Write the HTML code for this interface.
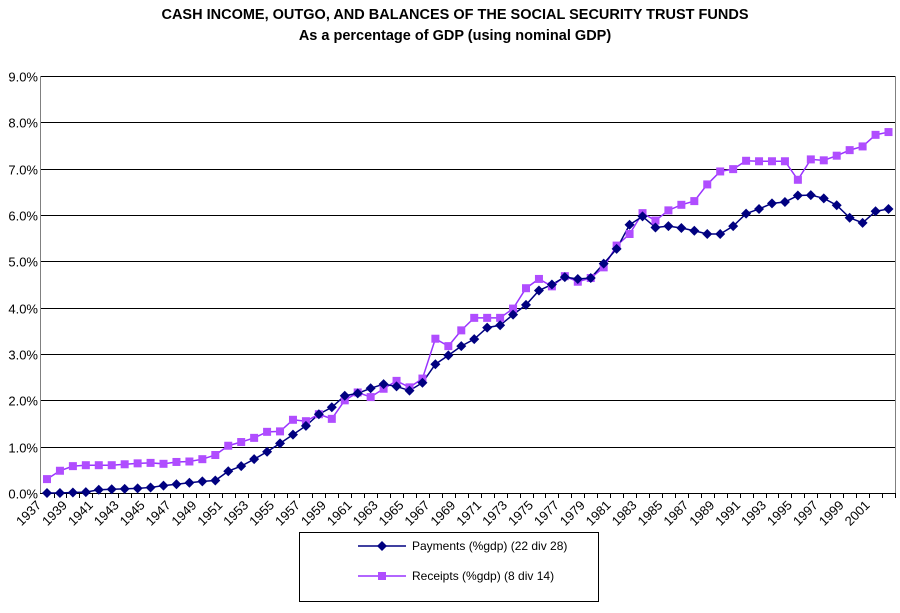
<!DOCTYPE html>
<html><head><meta charset="utf-8"><style>
body{margin:0;background:#fff;font-family:"Liberation Sans",sans-serif}
</style></head><body>
<svg id="chart" width="900" height="608" xmlns="http://www.w3.org/2000/svg">
<text x="455" y="19" text-anchor="middle" font-size="14.5" font-weight="bold">CASH INCOME, OUTGO, AND BALANCES OF THE SOCIAL SECURITY  TRUST FUNDS</text>
<text x="455" y="40" text-anchor="middle" font-size="14.5" font-weight="bold">As a percentage of GDP (using nominal GDP)</text>
<g id="grid"></g><g id="axes"></g><g id="series"></g>
<g>
<rect x="299.5" y="532.5" width="299" height="69" fill="#fff" stroke="#000"/>
<line x1="358" y1="546" x2="406" y2="546" stroke="#000080" stroke-width="1.5"/>
<path d="M382 541L387 546L382 551L377 546Z" fill="#000080"/>
<text x="412" y="550" font-size="12">Payments (%gdp) (22 div 28)</text>
<line x1="358" y1="576" x2="406" y2="576" stroke="#9933ff" stroke-width="1.5"/>
<rect x="378" y="572" width="8" height="8" fill="#b04dff"/>
<text x="412" y="580" font-size="12">Receipts (%gdp) (8 div 14)</text>
</g>
</svg>
<script>
const years=[];for(let y=1937;y<=2002;y++)years.push(y);
const payments=[0.0,0.0,0.01,0.02,0.07,0.08,0.09,0.10,0.12,0.16,0.19,0.22,0.25,0.27,0.47,0.58,0.73,0.89,1.07,1.26,1.45,1.70,1.85,2.10,2.15,2.26,2.35,2.30,2.21,2.38,2.78,2.97,3.17,3.32,3.57,3.62,3.85,4.06,4.37,4.50,4.66,4.62,4.64,4.95,5.27,5.79,5.97,5.73,5.76,5.72,5.66,5.59,5.59,5.76,6.03,6.13,6.25,6.28,6.42,6.43,6.36,6.21,5.94,5.83,6.08,6.13];
const receipts=[0.30,0.48,0.58,0.60,0.60,0.60,0.62,0.64,0.65,0.63,0.67,0.68,0.73,0.82,1.02,1.10,1.19,1.32,1.33,1.58,1.55,1.70,1.60,2.00,2.17,2.07,2.25,2.42,2.28,2.47,3.33,3.17,3.51,3.78,3.78,3.78,3.98,4.42,4.62,4.46,4.68,4.56,4.64,4.87,5.34,5.59,6.04,5.88,6.10,6.22,6.30,6.66,6.94,6.99,7.17,7.16,7.16,7.16,6.76,7.20,7.18,7.28,7.40,7.48,7.73,7.79];
const yTicks=[0,1,2,3,4,5,6,7,8,9];
const NS="http://www.w3.org/2000/svg";
const L=40,R=895,Y0=493,Y9=76;
const xs=i=>47+i*(888.5-47)/(years.length-1);
const ys=v=>Y0-(v/9)*(Y0-Y9);
function mk(tag,attrs,parent){const e=document.createElementNS(NS,tag);for(const k in attrs)e.setAttribute(k,attrs[k]);parent.appendChild(e);return e;}
const grid=document.getElementById('grid'),axes=document.getElementById('axes'),ser=document.getElementById('series');
yTicks.forEach(t=>{
  const y=Math.round(ys(t))+0.5;
  const g=mk('line',{x1:L,x2:R,y1:y,y2:y,stroke:'#000','stroke-width':1},grid);
  
  
  const tx=mk('text',{x:L-2,y:y+5,'text-anchor':'end','font-size':13},axes);
  tx.textContent=t.toFixed(1)+'%';
  
  
});
mk('line',{x1:L+0.5,x2:L+0.5,y1:Y9,y2:Y0+0.5,stroke:'#808080'},axes);
mk('line',{x1:R+0.5,x2:R+0.5,y1:Y9,y2:Y0+0.5,stroke:'#808080'},axes);
mk('line',{x1:L,x2:R,y1:Y0+0.5,y2:Y0+0.5,stroke:'#000'},axes);
years.forEach((yr,i)=>{
  const x=Math.round(xs(i)+6.5)+0.5;
  mk('line',{x1:x,x2:x,y1:Y0,y2:Y0+5,stroke:'#000'},axes);
  if(i%2===0){
    const ax=xs(i)-5,ay=Y0+13;
    const tx=mk('text',{x:ax,y:ay,'text-anchor':'end','font-size':13,transform:`rotate(-45 ${ax} ${ay})`},axes);
    tx.textContent=yr;
    
    
  }
});
function line(vals,color,name){
  const p=mk('polyline',{points:vals.map((v,i)=>xs(i)+','+ys(v)).join(' '),fill:'none',stroke:color,'stroke-width':1.5},ser);
  
  
}
line(receipts,'#9933ff','receipts');
line(payments,'#000080','payments');
receipts.forEach((v,i)=>{
  const r=mk('rect',{x:xs(i)-4,y:ys(v)-4,width:8,height:8,fill:'#b04dff'},ser);
  
  
});
payments.forEach((v,i)=>{
  const x=xs(i),y=ys(v);
  const d=mk('path',{d:`M${x} ${y-5}L${x+5} ${y}L${x} ${y+5}L${x-5} ${y}Z`,fill:'#000080'},ser);
  
  
});
</script>
</body></html>
